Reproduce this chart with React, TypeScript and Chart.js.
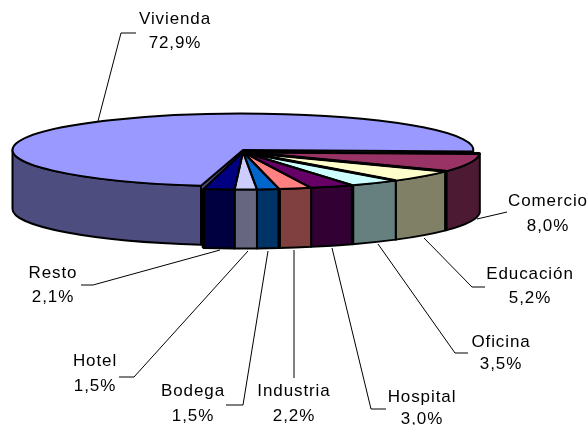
import React, { useEffect, useRef } from "react";
import { Chart, registerables } from "chart.js";

Chart.register(...registerables);

const categories = ["Vivienda", "Comercio", "Educación", "Oficina", "Hospital", "Industria", "Bodega", "Hotel", "Resto"];
const shares = [72.9, 8.0, 5.2, 3.5, 3.0, 2.2, 1.5, 1.5, 2.1];
const percentLabels = ["72,9%", "8,0%", "5,2%", "3,5%", "3,0%", "2,2%", "1,5%", "1,5%", "2,1%"];
const topColors = ["#9999FF", "#993366", "#FFFFCC", "#CCFFFF", "#660066", "#FF8080", "#0066CC", "#CCCCFF", "#000080"];
const wallColors = ["#4D4D80", "#4D1A33", "#808066", "#668080", "#330033", "#804040", "#003366", "#666680", "#000040"];
// Slices followed by a wider dark seam (the small gap of the exploded pie)
const wideSeamAfter = [1, 3, 5, 8];
const wideTopSeamAfter = [1, 2];

// Layout of labels: [centre x, first line mid y, second line mid y]
const labelPos = [
  [175, 19, 43], [548, 201, 226], [530, 274, 298], [501, 342, 364], [422, 397, 419],
  [294, 391, 416], [193, 391, 416], [95, 361, 386], [53, 273, 297],
];
const leaders = [
  [[136, 33], [121, 33], [98, 121]],
  [[507, 212], [477, 219]],
  [[485, 287], [472, 287], [424, 238]],
  [[468, 353], [455, 353], [378, 244]],
  [[386, 409], [371, 409], [332, 248]],
  [[294, 378], [294, 250]],
  [[226, 405], [243, 405], [268, 251]],
  [[119, 377], [134, 377], [248, 251]],
  [[81, 285], [93, 285], [220, 250]],
];

const K = 0.158;
const APEX_X = 243;
const APEX_Y = 152;
const DEPTH = 59;
const R_SMALL = 237;
const R_MAIN = 230.5;
const MAIN_SHIFT_Y = -2;
const MAIN_GAP = (0.9 * Math.PI) / 180;
const TAU = Math.PI * 2;

const pie3d = {
  id: "pie3d",
  afterDatasetsUpdate(chart: any) {
    const main = chart.getDatasetMeta(0).data[0];
    main.outerRadius = R_MAIN;
    main.y = main.y + MAIN_SHIFT_Y / K;
    main.startAngle = main.startAngle + MAIN_GAP;
  },
  beforeDatasetsDraw(chart: any) {
    const { ctx, chartArea } = chart;
    const ox = (chartArea.left + chartArea.right) / 2;
    const oy = (chartArea.top + chartArea.bottom) / 2;
    const arcs = chart.getDatasetMeta(0).data;
    const sx = (el: any) => el.x + APEX_X - ox;
    const sy = (el: any) => APEX_Y + (el.y - oy) * K;

    ctx.save();
    ctx.lineWidth = 2;
    ctx.strokeStyle = "#000";
    ctx.lineJoin = "round";
    arcs.forEach((el: any, i: number) => {
      const cx = sx(el), cy = sy(el), r = el.outerRadius, ry = r * K;
      const wrap = el.startAngle >= TAU ? TAU : 0;
      const a1 = Math.max(el.startAngle - wrap, 0);
      const a2 = Math.min(el.endAngle - wrap, Math.PI);
      if (i === 0) {
        const c = Math.cos(a1) * r + cx, d = Math.sin(a1) * ry + cy;
        ctx.beginPath();
        ctx.moveTo(cx, cy);
        ctx.lineTo(c, d);
        ctx.lineTo(c, d + DEPTH);
        ctx.lineTo(cx, cy + DEPTH);
        ctx.closePath();
        ctx.fillStyle = wallColors[i];
        ctx.fill();
        ctx.stroke();
      }
      ctx.beginPath();
      ctx.ellipse(cx, cy, r, ry, 0, a1, a2);
      ctx.ellipse(cx, cy + DEPTH, r, ry, 0, a2, a1, true);
      ctx.closePath();
      ctx.fillStyle = wallColors[i];
      ctx.fill();
      ctx.stroke();
    });
    ctx.lineWidth = 3.5;
    wideSeamAfter.forEach((i) => {
      const el = arcs[i];
      const a = el.endAngle - TAU;
      const x = sx(el) + Math.cos(a) * el.outerRadius;
      const y = sy(el) + Math.sin(a) * el.outerRadius * K;
      ctx.beginPath();
      ctx.moveTo(x, y);
      ctx.lineTo(x, y + DEPTH);
      ctx.stroke();
    });
    ctx.restore();

    ctx.save();
    ctx.translate(APEX_X, APEX_Y);
    ctx.scale(1, K);
    ctx.translate(-ox, -oy);
  },
  afterDatasetsDraw(chart: any) {
    const { ctx, chartArea } = chart;
    ctx.restore();
    const ox = (chartArea.left + chartArea.right) / 2;
    const oy = (chartArea.top + chartArea.bottom) / 2;
    const arcs = chart.getDatasetMeta(0).data;

    ctx.save();
    ctx.lineWidth = 2;
    ctx.strokeStyle = "#000";
    ctx.lineJoin = "round";
    arcs.forEach((el: any) => {
      const cx = el.x + APEX_X - ox, cy = APEX_Y + (el.y - oy) * K, r = el.outerRadius;
      ctx.beginPath();
      ctx.moveTo(cx, cy);
      ctx.ellipse(cx, cy, r, r * K, 0, el.startAngle, el.endAngle);
      ctx.closePath();
      ctx.stroke();
    });
    ctx.lineWidth = 3;
    const spoke = (el: any, a: number) => {
      const cx = el.x + APEX_X - ox, cy = APEX_Y + (el.y - oy) * K, r = el.outerRadius;
      ctx.beginPath();
      ctx.moveTo(cx, cy);
      ctx.lineTo(cx + Math.cos(a) * r, cy + Math.sin(a) * r * K);
      ctx.stroke();
    };
    wideTopSeamAfter.forEach((i) => spoke(arcs[i], arcs[i].endAngle));
    spoke(arcs[1], arcs[1].startAngle);
    ctx.restore();

    ctx.save();
    ctx.strokeStyle = "#000";
    ctx.lineWidth = 1;
    leaders.forEach((pts) => {
      ctx.beginPath();
      pts.forEach(([x, y], j) => (j ? ctx.lineTo(x, y) : ctx.moveTo(x, y)));
      ctx.stroke();
    });
    ctx.fillStyle = "#000";
    ctx.font = '17px "Liberation Sans", Arial, sans-serif';
    ctx.letterSpacing = "0.9px";
    ctx.textAlign = "center";
    ctx.textBaseline = "middle";
    categories.forEach((name, i) => {
      const [x, y1, y2] = labelPos[i];
      ctx.fillText(name, x, y1);
      ctx.fillText(percentLabels[i], x, y2);
    });
    ctx.restore();
  },
};

export default function App() {
  const ref = useRef<HTMLCanvasElement>(null);
  useEffect(() => {
    const chart = new Chart(ref.current!, {
      type: "pie",
      data: {
        labels: categories,
        datasets: [{ data: shares, backgroundColor: topColors, borderWidth: 0, clip: false } as any],
      },
      options: {
        responsive: false,
        animation: false,
        events: [],
        rotation: 189.6,
        radius: R_SMALL,
        layout: { padding: 0 },
        plugins: { legend: { display: false }, tooltip: { enabled: false } },
      } as any,
      plugins: [pie3d],
    });
    return () => chart.destroy();
  }, []);
  return (
    <canvas
      ref={ref}
      width={587}
      height={425}
      style={{ position: "absolute", left: 0, top: 0, display: "block" }}
    />
  );
}
